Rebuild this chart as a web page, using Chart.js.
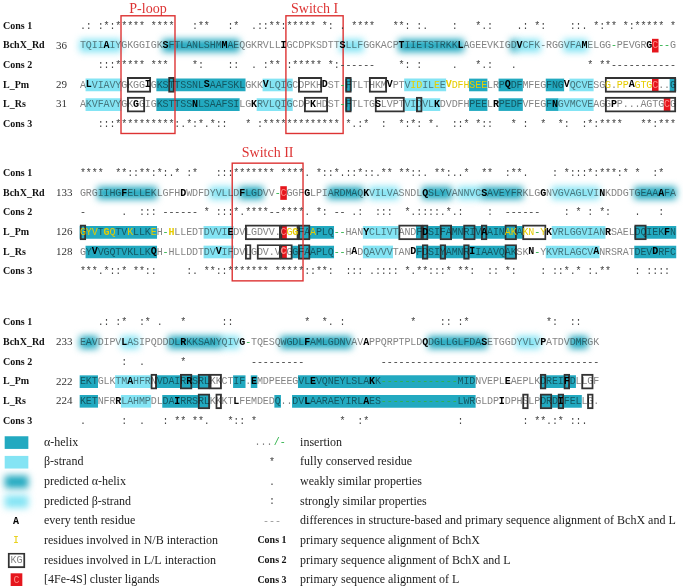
<!DOCTYPE html>
<html>
<head>
<meta charset="utf-8">
<script src="https://cdn.jsdelivr.net/npm/chart.js@4.4.1/dist/chart.umd.min.js"></script>
<style>
  html, body { margin: 0; padding: 0; background: #fff; }
  #wrap { width: 683px; height: 586px; }
</style>
</head>
<body>
<div id="wrap"><canvas id="alignChart" width="683" height="586"></canvas></div>
<script>
// ===============================
// ALIGNMENT DATA
// ===============================

const rowNames = ["Cons 1", "BchX_Rd", "Cons 2", "L_Pm", "L_Rs", "Cons 3"];
const bchxStarts = [36, 133, 233];
const lPmStarts = [29, 126, 222];
const lRsStarts = [31, 128, 224];

const cons1 = [
    ".: :*:***** ****   :**   :*  .::**:***** *: . ****   **: :.    :   *.:    .: *:    ::. *:** *:***** *",
    "****  **::**:*:.* :*   :::******* ****. *::*.::*::.** **::. **:..*  **  :**.    : *:::*:***:* *  :*  ",
    "   .: :*  :* .   *      ::            *  *. :           *    :: :*             *:  ::"
];
const bchx = [
    "TQIIAIYGKGGIGKSFTLANLSHMMAEQGKRVLLIGCDPKSDTTSLLFGGKACPTIIETSTRKKLAGEEVKIGDVCFK-RGGVFAMELGG-PEVGRGC--G",
    "GRGIIHGFELLEKLGFHDWDFDYVLLDFLGDVV-CGGFGLPIARDMAQKVILVASNDLQSLYVANNVCSAVEYFRKLGGNVGVAGLVINKDDGTGEAAAFA",
    "EAVDIPVLASIPQDDDLRKKSANYQIVG-TQESQWGDLFAMLGDNVAVAPPQRPTPLDQDGLLGLFDASETGGDYVLVPATDVDMRGK"
];
const cons2 = [
    "   :::***** ***    *:    ::  . :** :***** *:------    *: :     .   *.:   .            * **-----------",
    "-      .  ::: ------ * :::*.****--****. *: -- .:  :::  *.::::.*.:    :  ------    : * : *:    .   :  ",
    "       :  .      *           ---------             -------------------------------------"
];
const lPm = [
    "ALVIAVYGKGGIGKSTTSSNLSAAFSKLGKKVLQIGCDPKHDST-FTLTHKMVPTVIDILEEVDFHSEELRPQDFMFEGFNGVQCVESGG.PPAGTGC..G",
    "GYVTGQTVKLLKEH-HLLEDTDVVIEDVLGDVV.CGGFAAPLQ--HANYCLIVTANDFDSIFAMNRIVAAINAKAKN-YKVRLGGVIANRSAELDQIEKFN",
    "EKTGLKTMAHFRNVDAIRRSRLKKCTIF.EMDPEEEGVLEVQNEYLSLAKK-------------MIDNVEPLEAEPLKDREIFDLLGF"
];
const lRs = [
    "AKVFAVYGKGGIGKSTTSSNLSAAFSILGKRVLQIGCDPKHDST-FTLTGSLVPTVIDVLKDVDFHPEELRPEDFVFEGFNGVMCVEAGGPP...AGTGCG",
    "GYVVGQTVKLLKQH-HLLDDTDVVIFDVLGDV.VCGGFAAPLQ--HADQAVVVTANDFDSIYAMNRIIAAVQAKSKN-YKVRLAGCVANRSRATDEVDRFC",
    "KETNFRRLAHMPDLDAIRRSRLKKKTLFEMDEDQ..DVLAARAEYIRLAES-------------LWRGLDPIDPHSLPDRDIFELLG."
];
const cons3 = [
    "   :::**********:.*:*.*::   * :************* *.:*  :  *:*: *.  ::* *::   * :  *  *:  :*:****   **:***",
    "***.*::* **::     :. **::******* *****::**:  ::: .:::: *.**:::* **:  :: *:    : ::*.* :.**    : :::: ",
    ".      :  .   : ** **.   *:: *              *  :*               :          : **.:* ::."
];

// secondary structure: [block, row, first column, last column]
const helixRanges = [
    [0, 3, 13, 27], [0, 3, 45, 45], [0, 3, 66, 68], [0, 3, 71, 74], [0, 3, 79, 81], [0, 3, 100, 100],
    [0, 4, 13, 26], [0, 4, 45, 45], [0, 4, 66, 68], [0, 4, 71, 74], [0, 4, 79, 80],
    [1, 3, 0, 12], [1, 3, 37, 42], [1, 3, 57, 74], [1, 3, 94, 100],
    [1, 4, 1, 12], [1, 4, 36, 42], [1, 4, 57, 73], [1, 4, 94, 100],
    [2, 3, 0, 2], [2, 3, 13, 21], [2, 3, 26, 27], [2, 3, 29, 29], [2, 3, 37, 66], [2, 3, 78, 83],
    [2, 4, 0, 2], [2, 4, 14, 21], [2, 4, 33, 33], [2, 4, 36, 66], [2, 4, 78, 84]
];
const strandRanges = [
    [0, 3, 1, 6], [0, 3, 31, 35], [0, 3, 55, 61], [0, 3, 83, 86],
    [0, 4, 1, 6], [0, 4, 30, 35], [0, 4, 55, 60], [0, 4, 81, 86],
    [1, 3, 21, 25], [1, 3, 48, 53], [1, 3, 80, 88],
    [1, 4, 21, 25], [1, 4, 48, 52], [1, 4, 79, 87],
    [2, 3, 6, 11],
    [2, 4, 7, 11]
];
const predHelixRanges = [
    [0, 1, 14, 26], [0, 1, 54, 64], [0, 1, 73, 73],
    [1, 1, 3, 12], [1, 1, 27, 30], [1, 1, 42, 47], [1, 1, 58, 62], [1, 1, 68, 74], [1, 1, 94, 100],
    [2, 1, 0, 2], [2, 1, 15, 23], [2, 1, 34, 45], [2, 1, 59, 68], [2, 1, 83, 85]
];
const predStrandRanges = [
    [0, 1, 0, 6], [0, 1, 44, 47], [0, 1, 74, 77], [0, 1, 82, 85],
    [1, 1, 22, 25], [1, 1, 49, 53], [1, 1, 64, 67], [1, 1, 80, 87],
    [2, 1, 7, 9], [2, 1, 24, 26], [2, 1, 74, 77]
];
// L/L interaction boxes
const llBoxes = [
    [0, 3, 8, 11], [0, 3, 15, 15], [0, 3, 37, 40], [0, 3, 45, 45], [0, 3, 49, 51], [0, 3, 89, 100],
    [0, 4, 8, 10], [0, 4, 38, 41], [0, 4, 45, 45], [0, 4, 50, 54], [0, 4, 57, 57], [0, 4, 89, 100],
    [1, 3, 0, 0], [1, 3, 28, 33], [1, 3, 34, 36], [1, 3, 37, 38], [1, 3, 54, 57], [1, 3, 58, 58],
    [1, 3, 61, 62], [1, 3, 65, 66], [1, 3, 68, 68], [1, 3, 72, 73], [1, 3, 75, 78], [1, 3, 94, 95],
    [1, 4, 28, 28], [1, 4, 30, 33], [1, 4, 34, 35], [1, 4, 37, 38], [1, 4, 58, 58], [1, 4, 61, 61],
    [1, 4, 65, 65], [1, 4, 72, 73],
    [2, 3, 12, 12], [2, 3, 17, 18], [2, 3, 20, 21], [2, 3, 22, 23], [2, 3, 78, 78], [2, 3, 82, 82], [2, 3, 85, 86],
    [2, 4, 20, 21], [2, 4, 23, 23], [2, 4, 75, 75], [2, 4, 78, 79], [2, 4, 81, 81], [2, 4, 86, 86]
];
// [4Fe-4S] cluster ligands: [block, row, column]
const ligandCells = [[0, 1, 97], [0, 3, 97], [0, 4, 99], [1, 1, 34], [1, 3, 34], [1, 4, 34]];
// N/B interaction residues (yellow letters)
const nbResidues = [
    [0, 3, [56, 57, 60, 62, 63, 64, 65, 66, 67, 68, 89, 91, 92, 94, 95, 96]],
    [1, 3, [0, 1, 2, 4, 5, 8, 12, 15, 35, 36, 39, 72, 73, 75, 76, 78]]
];
const grayDashes = [[0, 1, 78]];

const motifNames = ["P-loop", "Switch I", "Switch II"];
const motifBlock = [0, 0, 1];
const motifCols = [[6.95, 16.1], [34.9, 44.6], [25.8, 37.8]];

const legendLeftText = [
    "\u03b1-helix", "\u03b2-strand", "predicted \u03b1-helix", "predicted \u03b2-strand",
    "every tenth residue", "residues involved in N/B interaction",
    "residues involved in L/L interaction", "[4Fe-4S] cluster ligands"
];
const legendRightSymbols = ["...", "*", ".", ":", "---", "Cons 1", "Cons 2", "Cons 3"];
const legendRightText = [
    "insertion", "fully conserved residue", "weakly similar properties", "strongly similar properties",
    "differences in structure-based and primary sequence alignment of BchX and L",
    "primary sequence alignment of BchX", "primary sequence alignment of BchX and L",
    "primary sequence alignment of L"
];

// ===============================
// LAYOUT (scale units: columns / rows)
// ===============================
const colPx = 5.9, firstColPx = 80;
const rowPx = 19.65, firstRowPx = 26;
const xMin = -firstColPx / colPx, xMax = xMin + 683 / colPx;
const yMin = -firstRowPx / rowPx, yMax = yMin + 586 / rowPx;
const blockSlots = [0, 7.5, 15.1];
const legendSlot = 21.2;
const labelCol = -13.05, numberCol = -4.07;
const swatchCols = [-12.71, -8.81];
const legendSymCol = -10.85, legendTextCol = -6.1;
const rightSymCol = 32.54, rightTextCol = 37.3;
const motifTop = -0.52, motifBottom = 5.47;
const motifTitleOffset = [-0.86, -0.86, -1.04];

const COLORS = {
    helix: "#22a9c0",
    strand: "#84e4f4",
    red: "#e5161d",
    letter: "#848484",
    bold: "#000",
    yellow: "#e6cc00",
    green: "#2fb24a",
    cons: "#444",
    motif: "#dd3333"
};

// ===============================
// BUILD DATASETS
// ===============================
function toBars(list) {
    return list.map(([b, r, from, to]) => ({ x: [from, to + 1], y: blockSlots[b] + r }));
}
function cellBars(list) {
    return list.map(([b, r, c]) => ({ x: [c, c + 1], y: blockSlots[b] + r }));
}

const helixData = toBars(helixRanges).concat([{ x: swatchCols, y: legendSlot }]);
const strandData = toBars(strandRanges).concat([{ x: swatchCols, y: legendSlot + 1 }]);
const predHelixData = toBars(predHelixRanges).concat([{ x: swatchCols, y: legendSlot + 2 }]);
const predStrandData = toBars(predStrandRanges).concat([{ x: swatchCols, y: legendSlot + 3 }]);
const boxData = toBars(llBoxes).concat([{ x: [-12.2, -9.32], y: legendSlot + 6 }]);
const ligandData = cellBars(ligandCells).concat([{ x: [-11.7, -9.83], y: legendSlot + 7 }]);

function barSet(data, color, thickness, order, extra) {
    return Object.assign({
        data: data,
        backgroundColor: color,
        borderWidth: 0,
        barThickness: thickness,
        grouped: false,
        borderSkipped: false,
        order: order
    }, extra || {});
}

const datasets = [
    barSet(boxData, "rgba(0,0,0,0)", 15, 0, { borderColor: "#333", borderWidth: 1.3 }),
    barSet(ligandData, COLORS.red, 13, 1),
    barSet(helixData, COLORS.helix, 12, 2),
    barSet(strandData, COLORS.strand, 12, 3),
    barSet(predHelixData, COLORS.helix, 12, 4, { blur: 3.5 }),
    barSet(predStrandData, COLORS.strand, 12, 5, { blur: 3.5 })
];

// ===============================
// PLUGINS
// ===============================
const blurPlugin = {
    id: "predictedBlur",
    beforeDatasetDraw(chart, args) {
        const ds = chart.data.datasets[args.index];
        if (ds.blur) {
            chart.ctx.save();
            chart.ctx.filter = "blur(" + ds.blur + "px)";
        }
    },
    afterDatasetDraw(chart, args) {
        if (chart.data.datasets[args.index].blur) chart.ctx.restore();
    }
};

function isIn(list, b, r, c) {
    return list.some(item => item[0] === b && item[1] === r && item[2] === c);
}
function isYellow(b, r, c) {
    return nbResidues.some(item => item[0] === b && item[1] === r && item[2].includes(c));
}

const textPlugin = {
    id: "alignText",
    afterDatasetsDraw(chart) {
        const ctx = chart.ctx;
        const xs = chart.scales.x, ys = chart.scales.y;
        const px = v => xs.getPixelForValue(v);
        const py = v => ys.getPixelForValue(v);
        ctx.save();
        ctx.textBaseline = "middle";

        // motif frames and titles
        motifNames.forEach((name, i) => {
            const base = blockSlots[motifBlock[i]];
            const [c0, c1] = motifCols[i];
            ctx.strokeStyle = COLORS.motif;
            ctx.lineWidth = 1.4;
            ctx.strokeRect(px(c0), py(base + motifTop), px(c1) - px(c0), py(base + motifBottom) - py(base + motifTop));
            ctx.fillStyle = COLORS.motif;
            ctx.font = "14px 'Liberation Serif'";
            ctx.textAlign = "center";
            ctx.fillText(name, px((c0 + c1) / 2), py(base + motifTitleOffset[i]));
        });

        const consRows = [[cons1, 0], [cons2, 2], [cons3, 5]];
        const seqRows = [[bchx, bchxStarts, 1], [lPm, lPmStarts, 3], [lRs, lRsStarts, 4]];

        for (let b = 0; b < 3; b++) {
            const base = blockSlots[b];

            rowNames.forEach((name, r) => {
                ctx.font = "bold 10px 'Liberation Serif'";
                ctx.fillStyle = "#111";
                ctx.textAlign = "left";
                ctx.fillText(name, px(labelCol), py(base + r));
            });

            consRows.forEach(([rows, r]) => {
                ctx.font = "10px 'Liberation Mono'";
                ctx.fillStyle = COLORS.cons;
                ctx.textAlign = "center";
                [...rows[b]].forEach((ch, c) => {
                    if (ch !== " ") ctx.fillText(ch, px(c + 0.5), py(base + r));
                });
            });

            seqRows.forEach(([rows, starts, r]) => {
                ctx.font = "11px 'Liberation Serif'";
                ctx.fillStyle = "#333";
                ctx.textAlign = "left";
                ctx.fillText(String(starts[b]), px(numberCol), py(base + r));

                ctx.textAlign = "center";
                let res = starts[b];
                [...rows[b]].forEach((ch, c) => {
                    const gap = ch === "-" || ch === ".";
                    const bold = !gap && res % 10 === 0;
                    let color = COLORS.letter;
                    if (ch === "-" && !isIn(grayDashes, b, r, c)) color = COLORS.green;
                    else if (isIn(ligandCells, b, r, c)) color = "#ff8c86";
                    else if (isYellow(b, r, c)) color = COLORS.yellow;
                    else if (bold) color = COLORS.bold;
                    // plain grey letters darken the highlight beneath them
                    ctx.globalCompositeOperation = color === COLORS.letter ? "multiply" : "source-over";
                    ctx.font = (bold ? "bold " : "") + "10px 'Liberation Mono'";
                    ctx.fillStyle = color;
                    ctx.fillText(ch, px(c + 0.5), py(base + r));
                    if (!gap) res++;
                });
                ctx.globalCompositeOperation = "source-over";
            });
        }

        // legend, left column
        legendLeftText.forEach((t, i) => {
            ctx.font = "12px 'Liberation Serif'";
            ctx.fillStyle = "#222";
            ctx.textAlign = "left";
            ctx.fillText(t, px(legendTextCol), py(legendSlot + i));
        });
        ctx.textAlign = "center";
        ctx.font = "bold 10px 'Liberation Mono'";
        ctx.fillStyle = "#000";
        ctx.fillText("A", px(legendSymCol), py(legendSlot + 4));
        ctx.font = "10px 'Liberation Mono'";
        ctx.fillStyle = COLORS.yellow;
        ctx.fillText("I", px(legendSymCol), py(legendSlot + 5));
        ctx.fillStyle = COLORS.letter;
        ctx.fillText("KG", px(-10.76), py(legendSlot + 6));
        ctx.fillStyle = "#ff8c86";
        ctx.fillText("C", px(-10.76), py(legendSlot + 7));

        // legend, right column
        legendRightSymbols.forEach((s, i) => {
            const yy = py(legendSlot + i);
            if (i === 0) {
                ctx.font = "10px 'Liberation Mono'";
                ctx.fillStyle = COLORS.letter;
                ctx.textAlign = "right";
                ctx.fillText(s, px(rightSymCol + 0.1), yy);
                ctx.fillStyle = COLORS.green;
                ctx.textAlign = "left";
                ctx.fillText("/-", px(rightSymCol + 0.3), yy);
            } else if (i >= 5) {
                ctx.font = "bold 10px 'Liberation Serif'";
                ctx.fillStyle = "#111";
                ctx.textAlign = "center";
                ctx.fillText(s, px(rightSymCol), yy);
            } else {
                ctx.font = "10px 'Liberation Mono'";
                ctx.fillStyle = i === 4 ? "#999" : COLORS.cons;
                ctx.textAlign = "center";
                ctx.fillText(s, px(rightSymCol), yy);
            }
        });
        legendRightText.forEach((t, i) => {
            ctx.font = "12px 'Liberation Serif'";
            ctx.fillStyle = "#222";
            ctx.textAlign = "left";
            ctx.fillText(t, px(rightTextCol), py(legendSlot + i));
        });

        ctx.restore();
    }
};

// ===============================
// CHART
// ===============================
const chart = new Chart(document.getElementById("alignChart").getContext("2d"), {
    type: "bar",
    data: { datasets: datasets },
    options: {
        indexAxis: "y",
        responsive: false,
        animation: false,
        devicePixelRatio: 1,
        layout: { padding: 0 },
        plugins: { legend: { display: false }, tooltip: { enabled: false } },
        scales: {
            x: { type: "linear", min: xMin, max: xMax, display: false, offset: false, grid: { display: false } },
            y: { type: "linear", min: yMin, max: yMax, reverse: true, display: false, offset: false, grid: { display: false } }
        }
    },
    plugins: [blurPlugin, textPlugin]
});
</script>
</body>
</html>
